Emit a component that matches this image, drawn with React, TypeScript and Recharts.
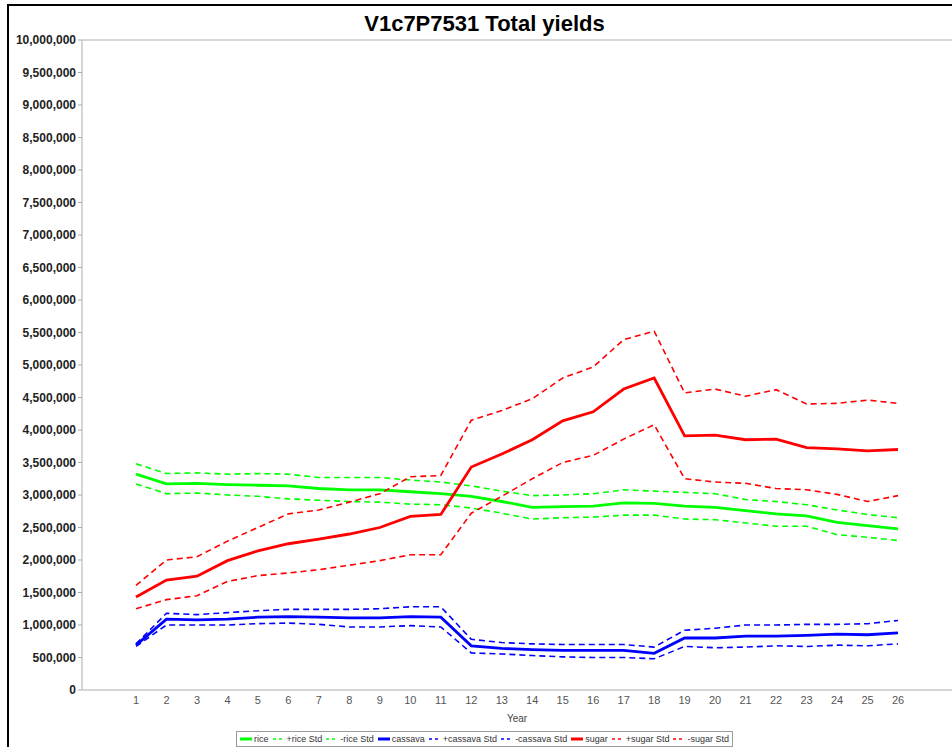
import React from 'react';
import { LineChart, Line, XAxis, YAxis, ReferenceLine } from 'recharts';

const years = [1,2,3,4,5,6,7,8,9,10,11,12,13,14,15,16,17,18,19,20,21,22,23,24,25,26];

const rice = [3320000,3170000,3180000,3160000,3150000,3140000,3100000,3080000,3080000,3050000,3020000,2980000,2900000,2810000,2820000,2830000,2880000,2870000,2830000,2810000,2760000,2710000,2680000,2580000,2530000,2480000];
const ricePlus = [3480000,3330000,3340000,3320000,3330000,3320000,3270000,3270000,3270000,3230000,3200000,3140000,3060000,2990000,3000000,3020000,3080000,3060000,3040000,3020000,2930000,2900000,2850000,2770000,2700000,2650000];
const riceMinus = [3170000,3020000,3030000,3000000,2980000,2940000,2920000,2900000,2890000,2860000,2850000,2800000,2720000,2630000,2650000,2660000,2690000,2690000,2630000,2620000,2570000,2520000,2520000,2390000,2350000,2300000];

const cassava = [690000,1090000,1080000,1090000,1120000,1130000,1120000,1110000,1110000,1130000,1120000,680000,640000,620000,610000,610000,610000,565000,800000,800000,830000,830000,840000,860000,850000,880000];
const cassavaPlus = [710000,1180000,1160000,1190000,1220000,1240000,1240000,1240000,1250000,1280000,1280000,780000,730000,710000,700000,700000,700000,660000,920000,950000,1000000,1000000,1010000,1010000,1020000,1070000];
const cassavaMinus = [670000,1000000,1000000,1000000,1020000,1030000,1010000,970000,970000,990000,970000,570000,555000,530000,510000,500000,500000,480000,670000,650000,660000,680000,670000,690000,680000,710000];

const sugar = [1430000,1690000,1750000,1990000,2140000,2250000,2320000,2400000,2500000,2670000,2700000,3430000,3630000,3850000,4140000,4280000,4630000,4800000,3910000,3920000,3850000,3860000,3730000,3710000,3680000,3700000];
const sugarPlus = [1610000,2000000,2050000,2290000,2500000,2710000,2770000,2890000,3020000,3280000,3300000,4150000,4300000,4480000,4800000,4970000,5390000,5520000,4570000,4630000,4520000,4620000,4400000,4410000,4460000,4410000];
const sugarMinus = [1250000,1390000,1450000,1670000,1760000,1800000,1850000,1920000,1990000,2080000,2080000,2720000,2980000,3250000,3500000,3610000,3860000,4080000,3250000,3200000,3180000,3100000,3080000,3010000,2900000,2990000];

const yTicks = [0,500000,1000000,1500000,2000000,2500000,3000000,3500000,4000000,4500000,5000000,5500000,6000000,6500000,7000000,7500000,8000000,8500000,9000000,9500000,10000000];

const seriesNames = ['rice', '+rice Std', '-rice Std', 'cassava', '+cassava Std', '-cassava Std', 'sugar', '+sugar Std', '-sugar Std'];
const seriesValues = [rice, ricePlus, riceMinus, cassava, cassavaPlus, cassavaMinus, sugar, sugarPlus, sugarMinus];

const GREEN = '#00ff00';
const BLUE = '#0000ff';
const RED = '#ff0000';
const seriesColors = [GREEN, GREEN, GREEN, BLUE, BLUE, BLUE, RED, RED, RED];

const data = years.map((y, i) => {
  const row: Record<string, number> = { year: y };
  seriesNames.forEach((n, k) => { row[n] = seriesValues[k][i]; });
  return row;
});

const fmt = (v: number) => v.toLocaleString('en-US');

const LegendBox = () => (
  <div style={{
    position: 'absolute', left: 236, top: 731,
    display: 'flex', alignItems: 'center', border: '1px solid #9a9a9a', background: '#fff',
    padding: '0 3px 0 3px', fontFamily: 'Liberation Sans, Arial, sans-serif', fontSize: 9, color: '#333',
    whiteSpace: 'nowrap', height: 14,
  }}>
    {seriesNames.map((n, k) => {
      const dashed = k % 3 !== 0;
      return (
        <span key={n} style={{ display: 'inline-flex', alignItems: 'center', marginRight: k === 8 ? 0 : 4 }}>
          <svg width={12} height={8} style={{ marginRight: 2 }}>
            <line x1={0} y1={4} x2={12} y2={4} stroke={seriesColors[k]} strokeWidth={dashed ? 1.6 : 3}
              strokeDasharray={dashed ? '3 3' : undefined} />
          </svg>
          {n}
        </span>
      );
    })}
  </div>
);

export default function App() {
  return (
    <div style={{ position: 'absolute', left: 0, top: 0, width: 952, height: 747, overflow: 'hidden', background: '#fff' }}>
      <div style={{ position: 'absolute', left: 7, top: 4, width: 1000, height: 800, border: '2px solid #000', boxSizing: 'border-box' }} />
      <div style={{
        position: 'absolute', left: 0, top: 11, width: 969, textAlign: 'center',
        fontFamily: 'Liberation Sans, Arial, sans-serif', fontWeight: 'bold', fontSize: 22, color: '#000', lineHeight: '26px',
      }}>V1c7P7531 Total yields</div>
      <div style={{ position: 'absolute', left: 0, top: 0 }}>
        <LineChart width={952} height={747} data={data} margin={{ top: 40, right: 0, left: 8, bottom: 17 }}>
          <XAxis dataKey="year" type="number" domain={[1, 26]} ticks={years} interval={0}
            padding={{ left: 54, right: 54 }} tickLine={false} tickSize={4} tickMargin={2} height={40}
            axisLine={{ stroke: '#c8c8c8', strokeWidth: 1.5 }}
            tick={{ fill: '#555', fontSize: 11, fontFamily: 'Liberation Sans, Arial, sans-serif' }}
            label={{ value: 'Year', position: 'insideBottom', offset: 8, fill: '#444', fontSize: 10, fontFamily: 'Liberation Sans, Arial, sans-serif' }} />
          <YAxis type="number" domain={[0, 10000000]} ticks={yTicks} interval={0} width={74}
            tickFormatter={fmt} tickSize={4} tickMargin={2}
            tickLine={{ stroke: '#aaa' }} axisLine={{ stroke: '#c8c8c8', strokeWidth: 1.5 }}
            tick={{ fill: '#222', fontSize: 12, fontWeight: 'bold', fontFamily: 'Liberation Sans, Arial, sans-serif' }} />
          <ReferenceLine y={10000000} stroke="#c8c8c8" strokeWidth={1.5} />
          {seriesNames.map((n, k) => {
            const dashed = k % 3 !== 0;
            return (
              <Line key={n} type="linear" dataKey={n} stroke={seriesColors[k]} strokeWidth={dashed ? 1.6 : 2.8}
                strokeDasharray={dashed ? '6 4' : undefined} dot={false} activeDot={false}
                isAnimationActive={false} />
            );
          })}
        </LineChart>
      </div>
      <LegendBox />
    </div>
  );
}
